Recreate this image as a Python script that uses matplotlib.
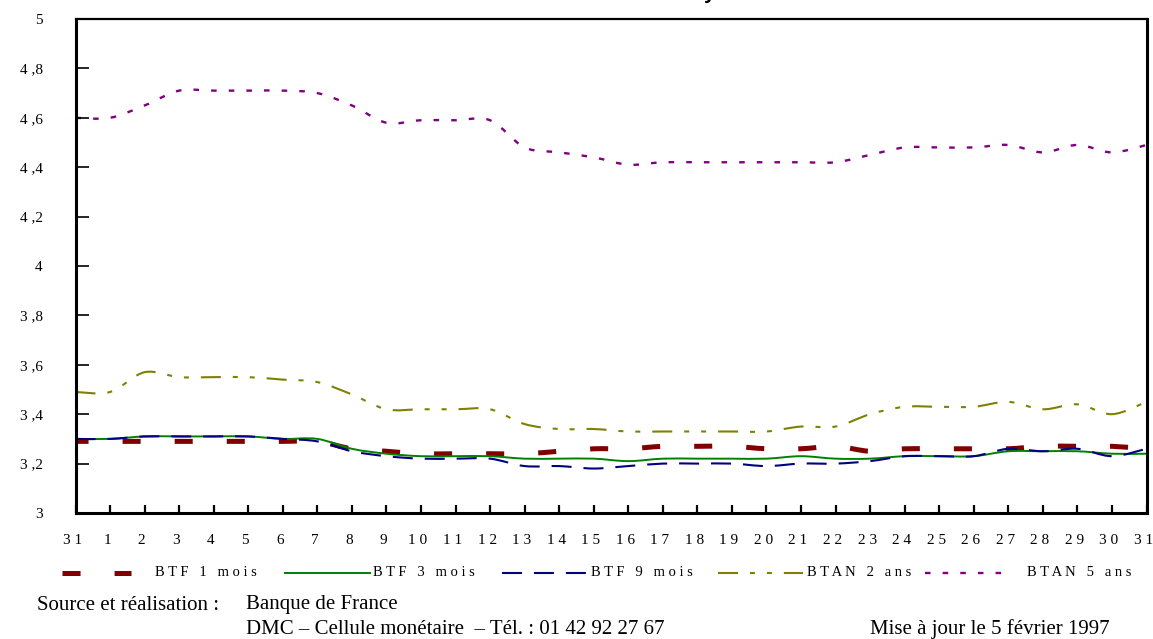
import matplotlib
matplotlib.use("Agg")
import matplotlib.pyplot as plt
from matplotlib.path import Path
from matplotlib.patches import PathPatch
from matplotlib.lines import Line2D
from matplotlib.transforms import ScaledTranslation
import numpy as np

plt.rcParams["lines.scale_dashes"] = False
plt.rcParams["font.family"] = ["Liberation Serif", "DejaVu Serif"]

# Days: 31 December, then 1..31 January
days = ["31"] + [str(d) for d in range(1, 32)]

btf_1m = [3.29, 3.29, 3.29, 3.29, 3.29, 3.29, 3.29, 3.29, 3.26, 3.25, 3.24, 3.24,
          3.24, 3.24, 3.25, 3.26, 3.26, 3.27, 3.27, 3.27, 3.26, 3.26, 3.27, 3.25,
          3.26, 3.26, 3.26, 3.26, 3.27, 3.27, 3.27, 3.26]
btf_3m = [3.30, 3.30, 3.31, 3.31, 3.31, 3.31, 3.30, 3.30, 3.26, 3.24, 3.23, 3.23,
          3.23, 3.22, 3.22, 3.22, 3.21, 3.22, 3.22, 3.22, 3.22, 3.23, 3.22, 3.22,
          3.23, 3.23, 3.23, 3.25, 3.25, 3.25, 3.24, 3.24]
btf_9m = [3.30, 3.30, 3.31, 3.31, 3.31, 3.31, 3.30, 3.29, 3.25, 3.23, 3.22, 3.22,
          3.22, 3.19, 3.19, 3.18, 3.19, 3.20, 3.20, 3.20, 3.19, 3.20, 3.20, 3.21,
          3.23, 3.23, 3.23, 3.26, 3.25, 3.26, 3.23, 3.26]
btan_2a = [3.49, 3.49, 3.57, 3.55, 3.55, 3.55, 3.54, 3.53, 3.48, 3.42, 3.42, 3.42,
           3.42, 3.36, 3.34, 3.34, 3.33, 3.33, 3.33, 3.33, 3.33, 3.35, 3.35, 3.40,
           3.43, 3.43, 3.43, 3.45, 3.42, 3.44, 3.40, 3.45]
btan_5a = [4.60, 4.60, 4.65, 4.71, 4.71, 4.71, 4.71, 4.70, 4.65, 4.58, 4.59, 4.59,
           4.59, 4.48, 4.46, 4.44, 4.41, 4.42, 4.42, 4.42, 4.42, 4.42, 4.42, 4.45,
           4.48, 4.48, 4.48, 4.49, 4.46, 4.49, 4.46, 4.49]

series_names = ["BTF 1 mois", "BTF 3 mois", "BTF 9 mois", "BTAN 2 ans", "BTAN 5 ans"]
y_ticks = [3.0, 3.2, 3.4, 3.6, 3.8, 4.0, 4.2, 4.4, 4.6, 4.8, 5.0]
y_tick_labels = ["3", "3 ,2", "3 ,4", "3 ,6", "3 ,8", "4", "4 ,2", "4 ,4", "4 ,6", "4 ,8", "5"]

W, H = 1153, 639
fig = plt.figure(figsize=(W / 100, H / 100), dpi=100)
ax = fig.add_axes([75.5 / W, 1 - 513 / H, (1146.5 - 75.5) / W, (513 - 19) / H])

styles = [
    dict(color="#800000", lw=3.6, dashes=(13, 24.5), offset=3.6),
    dict(color="#008000", lw=1.4, dashes=None, offset=0),
    dict(color="#000080", lw=1.5, dashes=(14.4, 8.6), offset=0),
    dict(color="#808000", lw=1.5, dashes=(14.4, 8.6, 3.6, 8.6, 3.6, 8.6), offset=0),
    dict(color="#800080", lw=1.7, dashes=(4, 8.7), offset=0),
]


def smooth_path(xs, ys):
    """Bezier path through the points (Catmull-Rom style smoothing)."""
    pts = np.column_stack([xs, ys]).astype(float)
    ext = np.vstack([pts[0], pts, pts[-1]])
    verts = [pts[0]]
    codes = [Path.MOVETO]
    for i in range(len(pts) - 1):
        p0, p1, p2, p3 = ext[i], ext[i + 1], ext[i + 2], ext[i + 3]
        c1 = p1 + (p2 - p0) / 6.0
        c2 = p2 - (p3 - p1) / 6.0
        verts += [c1, c2, p2]
        codes += [Path.CURVE4] * 3
    return Path(verts, codes)


x = np.arange(len(days))
for vals, st in zip([btf_1m, btf_3m, btf_9m, btan_2a, btan_5a], styles):
    ls = "-" if st["dashes"] is None else (st["offset"], st["dashes"])
    patch = PathPatch(smooth_path(x, vals), fill=False, edgecolor=st["color"],
                      lw=st["lw"], linestyle=ls, capstyle="butt", joinstyle="round",
                      clip_on=False)
    ax.add_patch(patch)

ax.set_xlim(0, len(days) - 1)
ax.set_ylim(3, 5)
ax.set_xticks(x)
ax.set_xticklabels([" ".join(d) for d in days], fontsize=11)
ax.set_yticks(y_ticks)
ax.set_yticklabels(y_tick_labels, fontsize=11)
ax.tick_params(axis="y", direction="in", length=9.4, width=1.2, pad=23.5)
ax.tick_params(axis="x", direction="in", length=5.8, width=1.6, pad=15)
for lab in ax.get_xticklabels():
    lab.set_transform(lab.get_transform() + ScaledTranslation(-3 / 100, 0, fig.dpi_scale_trans))
for side, w in [("left", 2.2), ("bottom", 2.2), ("right", 2.2), ("top", 1.6)]:
    ax.spines[side].set_linewidth(w)
    ax.spines[side].set_color("black")


def px(xp, yp):
    return xp / W, 1 - yp / H


# Legend row
leg_y = 573
leg_items = [
    (62, 131, 155),
    (284, 371, 373),
    (502, 587, 591),
    (718, 803, 807),
    (925, 1012, 1027),
]
for (x0, x1, tx), st, name in zip(leg_items, styles, series_names):
    ls = "-" if st["dashes"] is None else (0, st["dashes"])
    (fx0, fy), (fx1, _) = px(x0, leg_y), px(x1, leg_y)
    fig.add_artist(Line2D([fx0, fx1], [fy, fy], transform=fig.transFigure,
                          color=st["color"], lw=st["lw"], linestyle=ls,
                          solid_capstyle="butt", dash_capstyle="butt"))
    spaced = "   ".join(" ".join(word) for word in name.split(" "))
    fig.text(*px(tx, leg_y), spaced, fontsize=10.5, va="center", ha="left")

# Footer
fig.text(*px(37, 605), "Source et réalisation :", fontsize=15, va="center", ha="left")
fig.text(*px(246, 605), "Banque de France", fontsize=15, va="center", ha="left")
fig.text(*px(246, 629), "DMC – Cellule monétaire  – Tél. : 01 42 92 27 67",
         fontsize=15, va="center", ha="left")
fig.text(*px(870, 629), "Mise à jour le 5 février 1997", fontsize=15, va="center", ha="left")

# Title, clipped by the top edge of the page
fig.text(710 / W, 1 + 1 / H, "y", fontsize=15, fontweight="bold",
         family=["Liberation Sans", "DejaVu Sans"], va="baseline", ha="center")

fig.savefig("out.png", dpi=100)
